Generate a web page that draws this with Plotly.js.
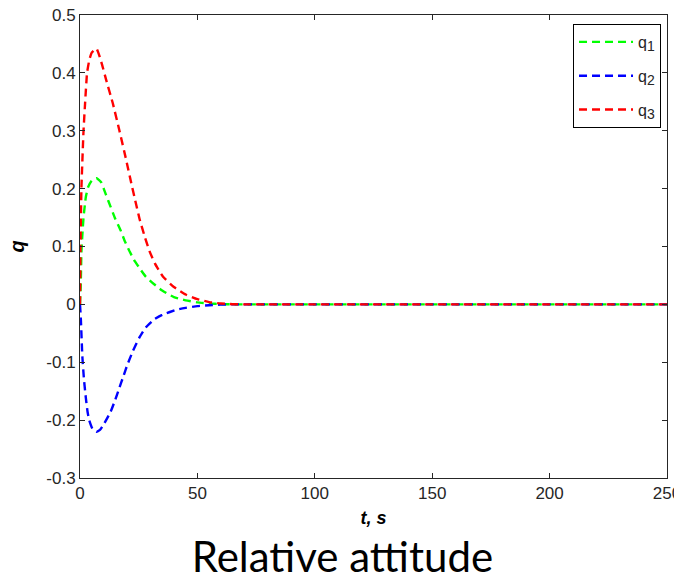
<!DOCTYPE html>
<html><head><meta charset="utf-8">
<script src="https://cdn.plot.ly/plotly-3.0.1.min.js"></script>
<style>html,body{margin:0;padding:0;background:#fff}#chart{width:674px;height:580px}</style>
</head><body><div id="chart"></div>
<script>
// time samples (s) and values
const t_q1 = [0,0.3,0.6,1,1.5,2.5,3.5,5,7,9,11,13,15,17.4,19,21,23,25.2,28,31.6,35,40,45,50,55,60,65,80,100,150,200,250];
const q1   = [0,0.03,0.09,0.12,0.15,0.186,0.203,0.214,0.218,0.211,0.19,0.169,0.148,0.127,0.11,0.0925,0.077,0.0635,0.048,0.0347,0.024,0.0125,0.007,0.0035,0.0015,0.0005,0,0,0,0,0,0];
const t_q2 = [0,0.35,1,1.7,2.5,3.2,3.9,5.3,7,8.5,10,13,15,16.7,18.5,20.2,22.5,25.2,28,31.6,35,41.6,45,50,55,60,65,80,100,150,200,250];
const q2   = [0,-0.024,-0.09,-0.13,-0.162,-0.185,-0.2,-0.215,-0.22,-0.217,-0.208,-0.186,-0.165,-0.145,-0.124,-0.104,-0.081,-0.058,-0.04,-0.026,-0.018,-0.0087,-0.006,-0.003,-0.0015,-0.0005,0,0,0,0,0,0];
const t_q3 = [0,0.2,0.6,1.5,2.2,3,4,5,7,9,11.2,14,16.8,19.7,21.8,23.5,25.4,27.5,29.6,32,35.3,40,45,50,55,60,65,70,80,100,150,200,250];
const q3   = [0,0.1,0.2,0.3,0.35,0.4,0.423,0.435,0.442,0.42,0.387,0.347,0.3,0.249,0.21,0.18,0.147,0.118,0.092,0.07,0.048,0.03,0.017,0.009,0.004,0.0015,0.0003,0,0,0,0,0,0];

const seriesNames = ['q<sub><span style="font-size:14px">1</span></sub>',
                     'q<sub><span style="font-size:14px">2</span></sub>',
                     'q<sub><span style="font-size:14px">3</span></sub>'];
const xTicks = [0,50,100,150,200,250];
const yTicks = [-0.3,-0.2,-0.1,0,0.1,0.2,0.3,0.4,0.5];
const yTickText = ['-0.3','-0.2','-0.1','0','0.1','0.2','0.3','0.4','0.5'];

const colors = ['#00ff00','#0000ff','#ff0000'];
const xs = [t_q1,t_q2,t_q3], ys = [q1,q2,q3];
const traces = xs.map((x,i)=>({
  x:x, y:ys[i], type:'scatter', mode:'lines', name:seriesNames[i],
  legendgroup:'g'+i,
  line:{color:colors[i], width:2.4, dash:'8px,5px', shape:'spline', smoothing:0.4}
}));

const tickFont = {family:'Liberation Sans, Arial', size:17, color:'#262626'};
const axisCommon = {
  showline:true, mirror:'ticks', linecolor:'#262626', linewidth:1,
  ticks:'inside', ticklen:5, tickcolor:'#262626', tickwidth:1,
  showgrid:false, zeroline:false, tickfont:tickFont, automargin:false,
  ticklabeloverflow:'allow'
};

const layout = {
  width:674, height:580,
  margin:{l:80, r:7, t:15, b:102},
  paper_bgcolor:'#fff', plot_bgcolor:'#fff',
  showlegend:true,
  title:{text:'Relative attitude', font:{family:'Lato', size:42, color:'#000'},
         xref:'container', x:0.508, xanchor:'center', yref:'container', y:0.04, yanchor:'middle'},
  xaxis:Object.assign({}, axisCommon, {
    range:[0,250], tickvals:xTicks, ticktext:xTicks.map(String),
    title:{text:'<b><i>t, s</i></b>', font:{family:'Arial', size:18, color:'#000'}, standoff:8}
  }),
  yaxis:Object.assign({}, axisCommon, {
    range:[-0.3,0.5], tickvals:yTicks, ticktext:yTickText,
    title:{text:'<b><i>q</i></b>', font:{family:'Arial', size:20, color:'#000'}, standoff:16}
  }),
  legend:{x:0.9898, xanchor:'right', y:0.9806, yanchor:'top',
          bgcolor:'#fff', bordercolor:'#000', borderwidth:1,
          font:{family:'Liberation Sans, Arial', size:16, color:'#262626'},
          itemwidth:54, traceorder:'grouped', tracegroupgap:10}
};

Plotly.newPlot('chart', traces, layout, {displayModeBar:false, staticPlot:true});
</script>
</body></html>
